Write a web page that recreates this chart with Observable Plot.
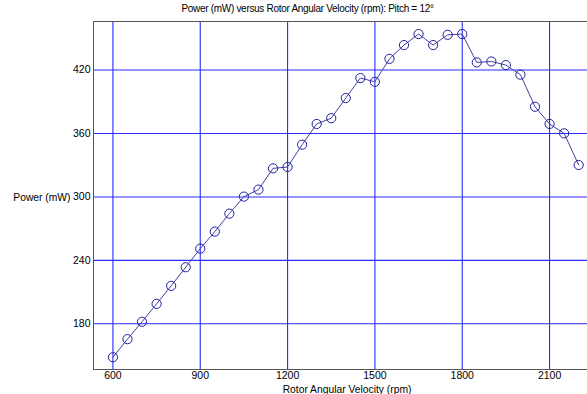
<!DOCTYPE html>
<html>
<head>
<meta charset="utf-8">
<script src="https://cdn.jsdelivr.net/npm/d3@7"></script>
<script src="https://cdn.jsdelivr.net/npm/@observablehq/plot@0.6"></script>
<style>
  html, body { margin: 0; padding: 0; background: #fff; overflow: hidden; width: 587px; height: 394px; }
  #title { height: 20px; width: 587px; box-sizing: border-box; padding-left: 28px; padding-top: 3px;
           text-align: center; font: 10px "Liberation Sans", Arial, sans-serif; letter-spacing: -0.3px; color: #000; }
  #chart { width: 600px; }
  #chart svg { display: block; max-width: none !important; width: 600px !important; height: 380px !important; }
</style>
</head>
<body>
<div id="title">Power (mW) versus Rotor Angular Velocity (rpm): Pitch = 12°</div>
<div id="chart"></div>
<script>
const rpm = [600, 650, 700, 750, 800, 850, 900, 950, 1000, 1050, 1100, 1150, 1200, 1250, 1300, 1350, 1400,
             1450, 1500, 1550, 1600, 1650, 1700, 1750, 1800, 1850, 1900, 1950, 2000, 2050, 2100, 2150, 2200];
const power = [148.4, 165.5, 181.9, 198.9, 215.9, 233.5, 251.1, 267.2, 284.2, 300.3, 306.9, 327.0, 328.3, 349.4, 369.0, 374.5, 393.5,
               412.4, 408.9, 430.6, 443.6, 454.0, 443.6, 453.3, 454.0, 427.2, 428.1, 424.7, 415.6, 385.3, 369.0, 360.1, 330.2];
const xTicks = [600, 900, 1200, 1500, 1800, 2100];
const yTicks = [180, 240, 300, 360, 420];
const xLabel = "Rotor Angular Velocity (rpm)";
const yLabel = "Power (mW)";

const data = rpm.map((r, i) => ({rpm: r, power: power[i]}));
const font = '"Liberation Sans", Arial, sans-serif';

const chart = Plot.plot({
  width: 600,
  height: 380,
  marginLeft: 93,
  marginRight: 0,
  marginTop: 1,
  marginBottom: 31,
  style: {fontFamily: font, fontSize: "10px", color: "#000", background: "#fff", overflow: "visible"},
  x: {domain: [533.3, 2275]},
  y: {domain: [136.8, 465.9]},
  marks: [
    Plot.gridX(xTicks, {stroke: "#2a2aff", strokeOpacity: 1, strokeWidth: 1.1}),
    Plot.gridY(yTicks, {stroke: "#2a2aff", strokeOpacity: 1, strokeWidth: 1.1}),
    Plot.frame({stroke: "#555", strokeWidth: 1}),
    Plot.axisX(xTicks, {tickSize: 0, tickPadding: 2, label: null, fontSize: 10.5, tickFormat: "d"}),
    Plot.axisY(yTicks, {tickSize: 0, tickPadding: 3, label: null, fontSize: 10.5, tickFormat: "d"}),
    Plot.text([yLabel], {frameAnchor: "left", dx: -23, dy: 2, textAnchor: "end", fontSize: 10.3}),
    Plot.text([xLabel], {frameAnchor: "bottom", dy: 23, fontSize: 10.3}),
    Plot.line(data, {x: "rpm", y: "power", stroke: "#4040a8", strokeWidth: 1}),
    Plot.dot(data, {x: "rpm", y: "power", r: 4.6, stroke: "#20209c", strokeWidth: 1, fill: "none"})
  ]
});
document.getElementById("chart").appendChild(chart);
</script>
</body>
</html>
